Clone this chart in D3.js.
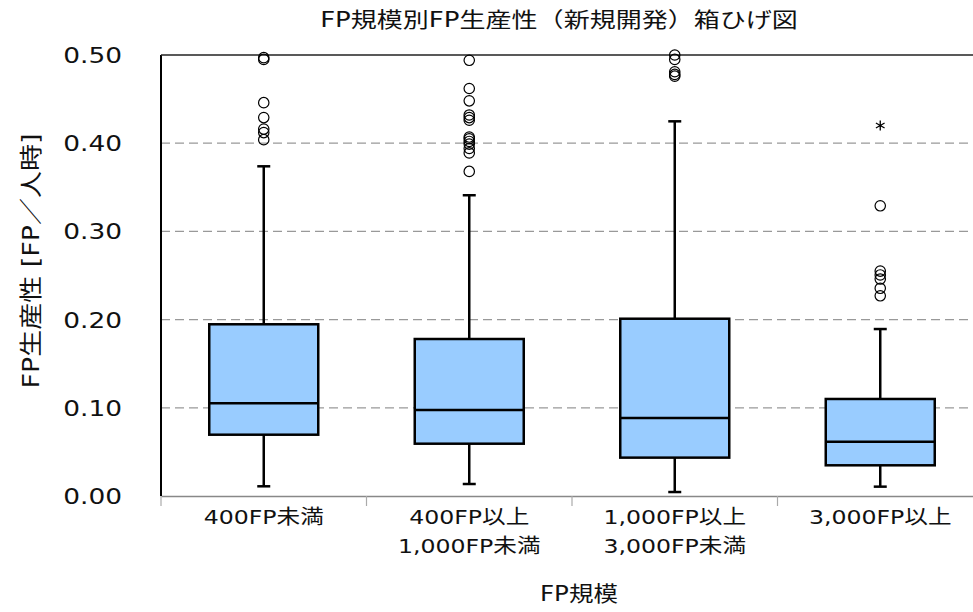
<!DOCTYPE html>
<html>
<head>
<meta charset="utf-8">
<script src="https://cdn.jsdelivr.net/npm/d3@7"></script>
<style>
  html, body { margin: 0; padding: 0; background: #fff; }
  svg { display: block; }
  text { font-family: "DejaVu Sans", "Noto Sans CJK JP", sans-serif; fill: #111; }
</style>
</head>
<body>
<svg id="chart" width="973" height="612"></svg>
<script>
// 箱ひげ図: FP規模別のFP生産性
const categories = ["400FP未満", "400FP以上\n1,000FP未満", "1,000FP以上\n3,000FP未満", "3,000FP以上"];
const whiskerLow = [0.011, 0.0136, 0.0045, 0.0106];
const q1 = [0.0695, 0.0593, 0.0435, 0.0348];
const median = [0.1051, 0.0975, 0.0884, 0.0616];
const q3 = [0.1947, 0.178, 0.201, 0.110];
const whiskerHigh = [0.3738, 0.341, 0.4248, 0.1893];
const outliers = [
  [0.497, 0.495, 0.446, 0.429, 0.416, 0.412, 0.404],
  [0.494, 0.462, 0.448, 0.432, 0.429, 0.426, 0.407, 0.405, 0.402, 0.399, 0.394, 0.389, 0.368],
  [0.5, 0.495, 0.481, 0.478, 0.476],
  [0.329, 0.255, 0.2506, 0.246, 0.2355, 0.227],
];
const extremes = [[], [], [], [0.42]];
const yTicks = [0, 0.1, 0.2, 0.3, 0.4, 0.5];

const svg = d3.select("#chart");
const M = { left: 161, top: 55, right: 983, bottom: 496 };

const x = d3.scaleBand().domain(d3.range(categories.length)).range([M.left, M.right]);
const y = d3.scaleLinear().domain([0, 0.5]).range([M.bottom, M.top]);
const boxW = 109;

// 元の図は文字が横に少し伸びているので、横方向に引き伸ばして合わせる
function label(parent, tx, ty, sx, size, anchor) {
  return parent.append("text")
    .attr("transform", `translate(${tx},${ty}) scale(${sx},1)`)
    .attr("text-anchor", anchor || "middle")
    .attr("font-size", size);
}

// グリッド線
svg.append("g")
  .selectAll("line")
  .data(yTicks.filter((t) => t > 0 && t < 0.5))
  .join("line")
  .attr("x1", M.left).attr("x2", M.right)
  .attr("y1", (d) => y(d)).attr("y2", (d) => y(d))
  .attr("stroke", "#999").attr("stroke-width", 1.3).attr("stroke-dasharray", "9 5");

// 下の軸 (灰色)
const xAxis = svg.append("g")
  .attr("transform", `translate(0,${M.bottom})`)
  .call(d3.axisBottom(x).tickSize(0).tickFormat(""));
xAxis.select(".domain").attr("stroke", "#888").attr("stroke-width", 1.5);
svg.append("g")
  .selectAll("line")
  .data(d3.range(categories.length + 1))
  .join("line")
  .attr("x1", (i) => M.left + i * x.bandwidth()).attr("x2", (i) => M.left + i * x.bandwidth())
  .attr("y1", M.bottom).attr("y2", M.bottom + 10)
  .attr("stroke", "#aaa").attr("stroke-width", 1.2);

// 左と上の枠
svg.append("line").attr("x1", M.left).attr("x2", M.left).attr("y1", M.top).attr("y2", M.bottom)
  .attr("stroke", "#000").attr("stroke-width", 2);
svg.append("line").attr("x1", M.left).attr("x2", M.right).attr("y1", M.top).attr("y2", M.top)
  .attr("stroke", "#222").attr("stroke-width", 1.5);

// y軸ラベル
const yLab = svg.append("g");
yTicks.forEach((t) => {
  label(yLab, 122, y(t), 1.2, 22, "end").attr("dy", "0.36em").text(d3.format(".2f")(t));
});

// x軸ラベル
const xLab = svg.append("g");
categories.forEach((c, i) => {
  const t = label(xLab, x(i) + x.bandwidth() / 2, 524, 1.18, 20);
  t.selectAll("tspan")
    .data(c.split("\n"))
    .join("tspan")
    .attr("x", 0)
    .attr("y", (d, k) => k * 29)
    .text((d) => d);
});

// 箱ひげ
const g = svg.append("g");
categories.forEach((_, i) => {
  const cx = x(i) + x.bandwidth() / 2;
  const gg = g.append("g");
  gg.append("line").attr("x1", cx).attr("x2", cx).attr("y1", y(whiskerLow[i])).attr("y2", y(q1[i]))
    .attr("stroke", "#000").attr("stroke-width", 2.5);
  gg.append("line").attr("x1", cx).attr("x2", cx).attr("y1", y(q3[i])).attr("y2", y(whiskerHigh[i]))
    .attr("stroke", "#000").attr("stroke-width", 2.5);
  [whiskerLow[i], whiskerHigh[i]].forEach((v) => {
    gg.append("line").attr("x1", cx - 6.5).attr("x2", cx + 6.5).attr("y1", y(v)).attr("y2", y(v))
      .attr("stroke", "#000").attr("stroke-width", 2.5);
  });
  gg.append("rect")
    .attr("x", cx - boxW / 2).attr("width", boxW)
    .attr("y", y(q3[i])).attr("height", y(q1[i]) - y(q3[i]))
    .attr("fill", "#99ccff").attr("stroke", "#000").attr("stroke-width", 2.5);
  gg.append("line").attr("x1", cx - boxW / 2).attr("x2", cx + boxW / 2)
    .attr("y1", y(median[i])).attr("y2", y(median[i]))
    .attr("stroke", "#000").attr("stroke-width", 2.5);
  gg.selectAll("circle")
    .data(outliers[i])
    .join("circle")
    .attr("cx", cx).attr("cy", (d) => y(d)).attr("r", 5.2)
    .attr("fill", "none").attr("stroke", "#000").attr("stroke-width", 1.2);
  gg.selectAll("path.ext")
    .data(extremes[i])
    .join("path")
    .attr("class", "ext")
    .attr("transform", (d) => `translate(${cx},${y(d)})`)
    .attr("d", d3.symbol(d3.symbolAsterisk, 70))
    .attr("fill", "none").attr("stroke", "#000").attr("stroke-width", 1.3);
});

// タイトル
label(svg, 559, 27, 1.24, 21).text("FP規模別FP生産性（新規開発）箱ひげ図");
label(svg, 579, 601, 1.17, 21).text("FP規模");
svg.append("text")
  .attr("transform", "translate(39,261) rotate(-90) scale(1,0.85)")
  .attr("text-anchor", "middle").attr("font-size", 27)
  .text("FP生産性 [FP／人時]");
</script>
</body>
</html>
